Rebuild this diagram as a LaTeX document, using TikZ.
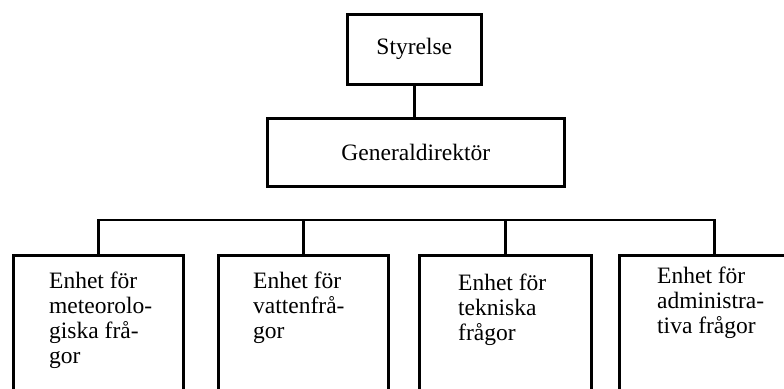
\documentclass[tikz,border=0pt]{standalone}
\usepackage{fontspec}
\setmainfont{Liberation Serif}
\usetikzlibrary{positioning}
\tikzset{
  orgline/.style={line width=2.6pt, line join=miter},
  orgbox/.style={draw, orgline, rectangle, inner sep=0pt, anchor=north west},
  unittext/.style={inner sep=0pt, anchor=north west, align=left},
}

\begin{document}
\begin{tikzpicture}[x=1pt, y=-1pt, font=\fontsize{23.5}{25}\selectfont]
  \clip (0,0) rectangle (784,388);
  % top boxes
  \node[orgbox, minimum width=134pt, minimum height=70pt] (styrelse) at (346,13) {Styrelse};
  \node[orgbox, minimum width=297pt, minimum height=68pt] (gd) at (266,117) {Generaldirektör};
  % units
  \node[orgbox, minimum width=170pt, minimum height=180pt] (u1) at (12,254) {};
  \node[orgbox, minimum width=170pt, minimum height=180pt] (u2) at (217,254) {};
  \node[orgbox, minimum width=172pt, minimum height=180pt] (u3) at (418,254) {};
  \node[orgbox, minimum width=190pt, minimum height=180pt] (u4) at (618,254) {};
  \node[unittext] (t1) at ([shift={(37,18)}]u1.north west) {Enhet för\\meteorolo-\\giska frå-\\gor};
  \node[unittext] (t2) at ([shift={(36,18)}]u2.north west) {Enhet för\\vattenfrå-\\gor};
  \node[unittext] (t3) at ([shift={(40,20)}]u3.north west) {Enhet för\\tekniska\\frågor};
  \node[unittext] (t4) at ([shift={(39,13)}]u4.north west) {Enhet för\\administra-\\tiva frågor};
  % lines
  \coordinate (bus) at (0,220);
  \draw[orgline] (styrelse.south) -- (styrelse.south |- gd.north);
  \draw[orgline] (u1.north) -- (u1.north |- bus) -- (u4.north |- bus) -- (u4.north);
  \draw[orgline] (u2.north) -- (u2.north |- bus);
  \draw[orgline] (u3.north) -- (u3.north |- bus);
\end{tikzpicture}
\end{document}
